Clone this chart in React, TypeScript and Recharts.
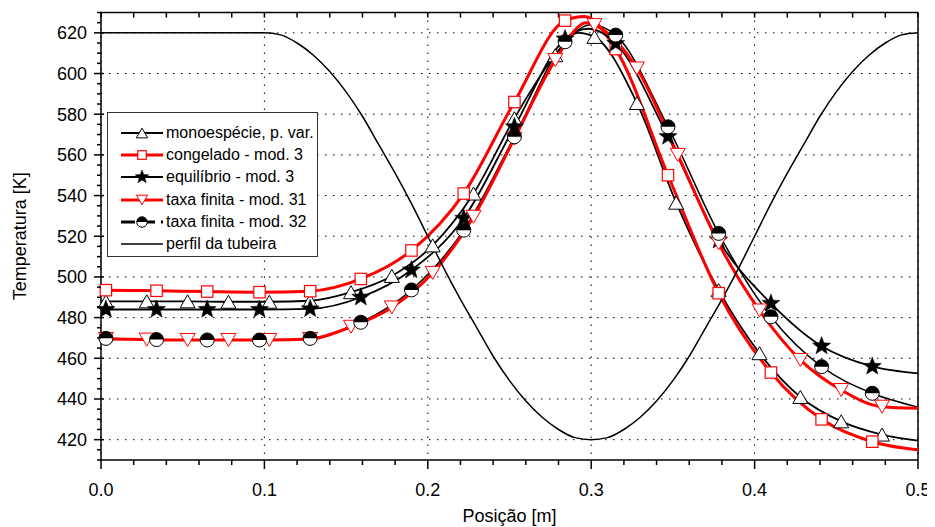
import React from 'react';
import {
  ComposedChart,
  Line,
  Scatter,
  XAxis,
  YAxis,
  CartesianGrid,
  ReferenceLine,
} from 'recharts';

type Pt = [number, number];

// axis ticks
const xMajor = [0, 0.1, 0.2, 0.3, 0.4, 0.5];
const yMajor = [420, 440, 460, 480, 500, 520, 540, 560, 580, 600, 620];
const xTicks = Array.from({ length: 26 }, (_, i) => +(i * 0.02).toFixed(2));
const yTicks = Array.from({ length: 45 }, (_, i) => 410 + i * 5);

// nozzle profile, drawn on the temperature scale
const profileCurve: Pt[] = [
  [0, 620], [0.05, 620], [0.1, 620], [0.11, 619], [0.12, 615], [0.13, 609], [0.14, 601],
  [0.15, 591], [0.16, 579], [0.17, 565], [0.18, 551], [0.19, 536], [0.2, 520], [0.21, 504],
  [0.22, 489], [0.23, 475], [0.24, 461], [0.25, 449], [0.26, 439], [0.27, 431], [0.28, 425],
  [0.29, 421], [0.3, 420], [0.31, 421], [0.32, 425], [0.33, 431], [0.34, 439], [0.35, 449],
  [0.36, 461], [0.37, 475], [0.38, 489], [0.39, 504], [0.4, 520], [0.41, 536], [0.42, 551],
  [0.43, 565], [0.44, 579], [0.45, 591], [0.46, 601], [0.47, 609], [0.48, 615], [0.49, 619],
  [0.5, 620],
];

// monoespécie, p. var.
const monoMarks: Pt[] = [
  [0.003, 488], [0.028, 488], [0.053, 488], [0.078, 487.8], [0.103, 487.8], [0.128, 488.3],
  [0.153, 492.5], [0.178, 500.5], [0.203, 515.5], [0.228, 541], [0.253, 578], [0.278, 609],
  [0.302, 618], [0.328, 585.5], [0.352, 536.5], [0.378, 493.5], [0.403, 462.5], [0.428, 441],
  [0.453, 429], [0.478, 422.5],
];
const monoExtra: Pt[] = [[0, 488], [0.292, 620], [0.5, 419.5]];

// congelado - mod. 3
const congMarks: Pt[] = [
  [0.003, 493.5], [0.034, 493.2], [0.065, 492.8], [0.097, 492.5], [0.128, 493], [0.159, 499],
  [0.19, 513], [0.222, 541], [0.253, 586], [0.284, 626], [0.315, 612], [0.347, 550],
  [0.378, 492], [0.41, 453], [0.441, 430], [0.472, 419],
];
const congExtra: Pt[] = [[0, 493.5], [0.296, 628], [0.5, 415]];

// equilíbrio - mod. 3
const equiMarks: Pt[] = [
  [0.003, 484], [0.034, 484], [0.065, 484], [0.097, 484], [0.128, 484.3], [0.159, 490],
  [0.19, 503.4], [0.222, 528.8], [0.253, 573.8], [0.284, 617], [0.315, 614.8], [0.347, 569],
  [0.378, 518], [0.41, 487], [0.441, 466], [0.472, 456],
];
const equiExtra: Pt[] = [[0, 484], [0.298, 622], [0.5, 452.6]];

// taxa finita - mod. 31
const tf31Marks: Pt[] = [
  [0.003, 469.5], [0.028, 469.2], [0.053, 469], [0.078, 469], [0.103, 469], [0.128, 469.5],
  [0.153, 475.5], [0.178, 485], [0.203, 502], [0.228, 529.6], [0.253, 568], [0.278, 606.6],
  [0.302, 623.8], [0.328, 602.5], [0.353, 560], [0.378, 516.5], [0.403, 483.5], [0.428, 459.2],
  [0.453, 444.4], [0.478, 436.2],
];
const tf31Extra: Pt[] = [[0, 469.5], [0.297, 625], [0.5, 435.4]];

// taxa finita - mod. 32
const tf32Marks: Pt[] = [
  [0.003, 469.8], [0.034, 469.2], [0.065, 469], [0.097, 469], [0.128, 469.8], [0.159, 477.7],
  [0.19, 493.6], [0.222, 523], [0.253, 568.9], [0.284, 615.6], [0.315, 618.9], [0.347, 573.8],
  [0.378, 521.4], [0.41, 480.4], [0.441, 455.9], [0.472, 442.8],
];
const tf32Extra: Pt[] = [[0, 469.8], [0.3, 624], [0.5, 436]];

const RED = '#ff0000';
const FONT = '"Liberation Sans", Arial, sans-serif';

const rows = (pts: Pt[], extra: Pt[] = []) =>
  [...pts, ...extra].sort((a, b) => a[0] - b[0]).map(([x, t]) => ({ x, t }));

// ---- markers ----
const TriUp = ({ cx, cy, s = 1 }: any) => {
  const w = 7.5 * s, h = 6.5 * s;
  return (
    <polygon
      points={`${cx},${cy - h} ${cx - w},${cy + h} ${cx + w},${cy + h}`}
      fill="#fff" stroke="#000" strokeWidth={1}
    />
  );
};

const TriDown = ({ cx, cy, s = 1 }: any) => {
  const w = 7.5 * s, h = 6.5 * s;
  return (
    <polygon
      points={`${cx - w},${cy - h} ${cx + w},${cy - h} ${cx},${cy + h}`}
      fill="#fff" stroke={RED} strokeWidth={1}
    />
  );
};

const Square = ({ cx, cy, s = 1 }: any) => {
  const a = 5.7 * s;
  return <rect x={cx - a} y={cy - a} width={2 * a} height={2 * a} fill="#fff" stroke={RED} strokeWidth={1.2} />;
};

const Star = ({ cx, cy, s = 1 }: any) => {
  const R = 9.5 * s, r = 4 * s;
  const pts: string[] = [];
  for (let i = 0; i < 10; i++) {
    const rad = i % 2 === 0 ? R : r;
    const a = -Math.PI / 2 + (i * Math.PI) / 5;
    pts.push(`${cx + rad * Math.cos(a)},${cy + rad * Math.sin(a)}`);
  }
  return <polygon points={pts.join(' ')} fill="#000" stroke="#000" strokeWidth={0.5} />;
};

const HalfCircle = ({ cx, cy, s = 1 }: any) => {
  const r = 7 * s;
  return (
    <g>
      <circle cx={cx} cy={cy} r={r} fill="#fff" stroke="#000" strokeWidth={1} />
      <path d={`M${cx - r},${cy} A${r},${r} 0 0 1 ${cx + r},${cy} Z`} fill="#000" />
    </g>
  );
};

const legendItems = [
  { name: 'monoespécie, p. var.', color: '#000', width: 1.8, dash: undefined, Marker: TriUp },
  { name: 'congelado - mod. 3', color: RED, width: 3, dash: undefined, Marker: Square },
  { name: 'equilíbrio - mod. 3', color: '#000', width: 1.8, dash: undefined, Marker: Star },
  { name: 'taxa finita - mod. 31', color: RED, width: 3, dash: undefined, Marker: TriDown },
  { name: 'taxa finita - mod. 32', color: '#000', width: 3, dash: '14 6', Marker: HalfCircle },
  { name: 'perfil da tubeira', color: '#000', width: 1.5, dash: undefined, Marker: null as any },
];

// ---- ticks ----
const isXMajor = (v: number) => xMajor.some((m) => Math.abs(m - v) < 1e-6);

const BottomTick = (props: any) => {
  const { x, y, payload } = props;
  const major = isXMajor(payload.value);
  return (
    <g>
      <path d={`M${x},${y}V${y + (major ? 9 : 5)}`} stroke="#000" strokeWidth={1.5} fill="none" />
      {major && (
        <text x={x} y={y + 36} textAnchor="middle" fontSize={18} fill="#000" fontFamily={FONT}>
          {payload.value.toFixed(1)}
        </text>
      )}
    </g>
  );
};

const LeftTick = (props: any) => {
  const { x, y, payload } = props;
  const major = yMajor.includes(payload.value);
  return (
    <g>
      <path
        d={`M${x - (major ? 7 : 4)},${y}H${x + (major ? 3 : 0)}`}
        stroke="#000" strokeWidth={1.5} fill="none"
      />
      {major && (
        <text x={x - 14} y={y + 6.5} textAnchor="end" fontSize={18} fill="#000" fontFamily={FONT}>
          {payload.value}
        </text>
      )}
    </g>
  );
};

const series = [
  { key: 'mono', marks: monoMarks, extra: monoExtra, item: legendItems[0] },
  { key: 'cong', marks: congMarks, extra: congExtra, item: legendItems[1] },
  { key: 'equi', marks: equiMarks, extra: equiExtra, item: legendItems[2] },
  { key: 'tf31', marks: tf31Marks, extra: tf31Extra, item: legendItems[3] },
];

export default function App() {
  return (
    <div style={{ position: 'relative', width: 927, height: 519, fontFamily: FONT }}>
      <ComposedChart
        width={927}
        height={519}
        margin={{ top: 4.5, right: 17, bottom: 0, left: 0 }}
        style={{ fontFamily: FONT }}
      >
        <CartesianGrid
          stroke="#000"
          strokeDasharray="1.5 6.5"
          horizontalValues={yMajor}
          verticalValues={xMajor}
        />
        <XAxis
          dataKey="x"
          type="number"
          domain={[0, 0.5]}
          ticks={xTicks}
          interval={0}
          height={67}
          tickSize={0}
          tickMargin={0}
          tick={BottomTick}
          axisLine={{ stroke: '#000', strokeWidth: 1.5 }}
          label={{ value: 'Posição [m]', position: 'insideBottom', offset: 5, fontSize: 18, fill: '#000' }}
        />
        <YAxis
          type="number"
          domain={[410, 630]}
          ticks={yTicks}
          interval={0}
          width={93}
          tickSize={0}
          tickMargin={0}
          tick={LeftTick}
          axisLine={{ stroke: '#000', strokeWidth: 1.5 }}
          allowDataOverflow
          label={{
            value: 'Temperatura [K]',
            angle: -90,
            position: 'insideLeft',
            offset: 12,
            fontSize: 18,
            fill: '#000',
            style: { textAnchor: 'middle' },
          }}
        />
        <ReferenceLine y={630} stroke="#000" strokeWidth={1.5} />
        <ReferenceLine x={0.5} stroke="#000" strokeWidth={1.5} />
        {/* inward ticks along the top frame */}
        {xTicks.map((v) => (
          <ReferenceLine
            key={'tt' + v}
            segment={[{ x: v, y: 630 }, { x: v, y: 627.5 }]}
            stroke="#000"
            strokeWidth={1.5}
          />
        ))}

        {/* mod. 32 curve sits under the red mod. 31 curve */}
        <Line
          data={rows(tf32Marks, tf32Extra)}
          dataKey="t"
          type="monotone"
          stroke="#000"
          strokeWidth={1.5}
          dot={false}
          activeDot={false}
          isAnimationActive={false}
        />
        {series.map((s) => (
          <Line
            key={s.key}
            data={rows(s.marks, s.extra)}
            dataKey="t"
            type="monotone"
            stroke={s.item.color}
            strokeWidth={s.item.width}
            dot={false}
            activeDot={false}
            isAnimationActive={false}
          />
        ))}
        {[...series, { key: 'tf32', marks: tf32Marks, extra: tf32Extra, item: legendItems[4] }].map((s) => (
          <Scatter
            key={s.key + '-m'}
            data={rows(s.marks)}
            dataKey="t"
            shape={(p: any) => <s.item.Marker cx={p.cx} cy={p.cy} />}
            isAnimationActive={false}
          />
        ))}
        <Line
          data={rows(profileCurve)}
          dataKey="t"
          type="monotone"
          stroke="#000"
          strokeWidth={1.5}
          dot={false}
          activeDot={false}
          isAnimationActive={false}
        />
      </ComposedChart>

      <div
        style={{
          position: 'absolute',
          left: 99,
          top: 104,
          width: 211,
          height: 145,
          boxSizing: 'border-box',
          border: '1px solid #333',
          background: '#fff',
          paddingTop: 9,
          fontSize: 16,
          color: '#000',
        }}
      >
        {legendItems.map((it) => (
          <div key={it.name} style={{ display: 'flex', alignItems: 'center', height: 22.2 }}>
            <svg width={58} height={22} style={{ flex: 'none' }}>
              <line
                x1={13} x2={55} y1={11} y2={11}
                stroke={it.color} strokeWidth={it.width} strokeDasharray={it.dash}
              />
              {it.Marker && <it.Marker cx={34} cy={11} s={0.75} />}
            </svg>
            <span style={{ whiteSpace: 'nowrap' }}>{it.name}</span>
          </div>
        ))}
      </div>
    </div>
  );
}
